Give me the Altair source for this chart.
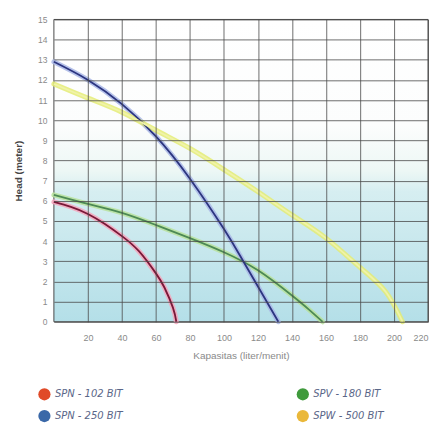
import altair as alt
import pandas as pd

series_names = ["SPN - 102 BIT", "SPV - 180 BIT", "SPN - 250 BIT", "SPW - 500 BIT"]
legend_order = ["SPN - 102 BIT", "SPN - 250 BIT", "SPV - 180 BIT", "SPW - 500 BIT"]

red_x = [0, 10, 20, 30, 40, 50, 60, 65, 70, 72]
red_y = [5.95, 5.7, 5.35, 4.85, 4.25, 3.5, 2.4, 1.7, 0.7, 0]

green_x = [0, 20, 40, 60, 80, 100, 120, 140, 150, 158]
green_y = [6.3, 5.85, 5.4, 4.8, 4.15, 3.45, 2.55, 1.3, 0.6, 0]

blue_x = [0, 20, 40, 60, 80, 100, 110, 120, 132]
blue_y = [12.9, 12.0, 10.8, 9.2, 7.1, 4.6, 3.2, 1.75, 0]

yellow_x = [0, 20, 40, 60, 80, 100, 120, 140, 160, 180, 195, 205]
yellow_y = [11.8, 11.1, 10.4, 9.5, 8.6, 7.55, 6.45, 5.3, 4.15, 2.7, 1.5, 0]

x_ticks = [20, 40, 60, 80, 100, 120, 140, 160, 180, 200, 220]
y_ticks = list(range(0, 16))

legend_colors = ["#e04a28", "#3a68a8", "#3f9a3c", "#eab83a"]
glow_colors = ["#f4a6bc", "#b8e29c", "#a9b7e6", "#e4ec74"]
core_colors = ["#7a1838", "#4d8a55", "#2c3580", "#f0f3a8"]
glow_widths = [5, 5, 4, 7]

rows = []
for name, xs, ys in zip(series_names, [red_x, green_x, blue_x, yellow_x],
                        [red_y, green_y, blue_y, yellow_y]):
    for i, (a, b) in enumerate(zip(xs, ys)):
        rows.append({"series": name, "flow": a, "head": b, "order": i})
df = pd.DataFrame(rows)

bg_df = pd.DataFrame([{"x": 0, "x2": 220, "y": 0, "y2": 15}])

xscale = alt.Scale(domain=[0, 220], nice=False, zero=True)
yscale = alt.Scale(domain=[0, 15], nice=False)


def x_axis():
    return alt.Axis(values=x_ticks, title="Kapasitas (liter/menit)", labelColor="#8a8a8a",
                    labelFontSize=9, titleColor="#8a8a8a", titleFontSize=10, titleFontWeight="normal",
                    ticks=False, labelPadding=12, titlePadding=8, domain=False, zindex=1,
                    labelOverlap=False,
                    grid=True, gridColor="#4a4a4a", gridOpacity=0.8, gridWidth=1)


def y_axis():
    return alt.Axis(values=y_ticks, title="Head (meter)", labelColor="#8a8a8a",
                    labelFontSize=8.5, titleColor="#444444", titleFontSize=10, titleFontWeight="bold",
                    ticks=False, labelPadding=7, titlePadding=14, domain=False, zindex=1,
                    labelOverlap=False,
                    grid=True, gridColor="#4a4a4a", gridOpacity=0.8, gridWidth=1)


bg = alt.Chart(bg_df).mark_rect(
    color=alt.Gradient(
        gradient="linear",
        stops=[alt.GradientStop(color="#ffffff", offset=0),
               alt.GradientStop(color="#fcfdfd", offset=0.35),
               alt.GradientStop(color="#edf7f5", offset=0.5),
               alt.GradientStop(color="#d6eef1", offset=0.57),
               alt.GradientStop(color="#b4dfe8", offset=1)],
        x1=0, x2=0, y1=0, y2=1),
    stroke="#4a4a4a", strokeWidth=1
).encode(
    x=alt.X("x:Q", scale=xscale, axis=x_axis()),
    x2="x2:Q",
    y=alt.Y("y:Q", scale=yscale, axis=y_axis()),
    y2="y2:Q",
)

glow = alt.Chart(df).mark_line(interpolate="natural", opacity=0.85, strokeCap="round").encode(
    x=alt.X("flow:Q", scale=xscale, axis=x_axis()),
    y=alt.Y("head:Q", scale=yscale, axis=y_axis()),
    order="order:Q",
    color=alt.Color("series:N", scale=alt.Scale(domain=series_names, range=glow_colors), legend=None),
    strokeWidth=alt.StrokeWidth("series:N", scale=alt.Scale(domain=series_names, range=glow_widths), legend=None),
)

core = alt.Chart(df).mark_line(interpolate="natural", strokeWidth=1.8).encode(
    x=alt.X("flow:Q", scale=xscale, axis=x_axis()),
    y=alt.Y("head:Q", scale=yscale, axis=y_axis()),
    order="order:Q",
    color=alt.Color("series:N", scale=alt.Scale(domain=series_names, range=core_colors), legend=None),
)

leg = alt.Chart(df).mark_point(filled=True, opacity=0, size=10).encode(
    x=alt.X("flow:Q", scale=xscale, axis=x_axis()),
    y=alt.Y("head:Q", scale=yscale, axis=y_axis()),
    color=alt.Color("series:N",
                    scale=alt.Scale(domain=legend_order, range=legend_colors),
                    sort=legend_order,
                    legend=alt.Legend(title=None, orient="none", legendX=-16, legendY=369,
                                      columns=2, columnPadding=173, rowPadding=9,
                                      symbolType="circle", symbolSize=150, symbolOpacity=1,
                                      symbolStrokeWidth=0,
                                      labelFont="DejaVu Sans", labelFontStyle="italic",
                                      labelFontSize=10, labelColor="#5a6688", labelOffset=4)),
)

chart = alt.layer(bg, glow, core, leg).resolve_scale(
    color="independent", strokeWidth="independent"
).properties(
    width=375, height=303,
    padding={"left": 5, "top": 7, "right": 2, "bottom": 2},
).configure_view(stroke="#4a4a4a", strokeWidth=1).configure(background="white")

chart.save("out.html", embed_options={"renderer": "svg", "actions": False})
